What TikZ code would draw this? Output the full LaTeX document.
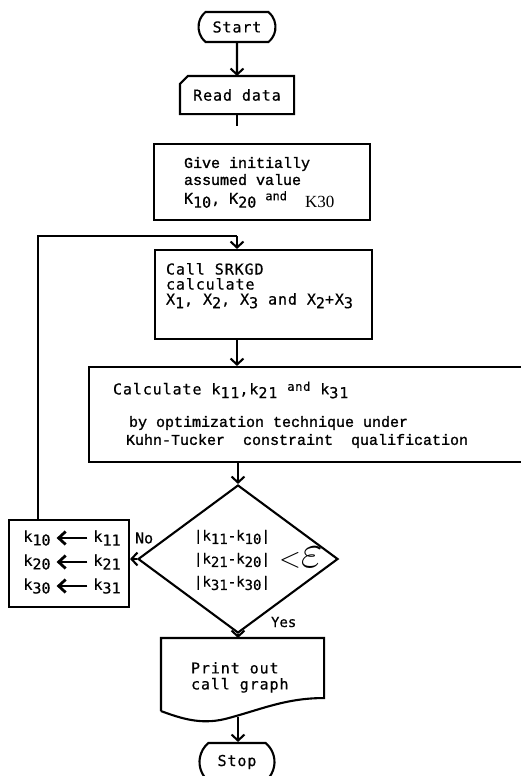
\documentclass[tikz,border=0pt]{standalone}
\usepackage{fontspec}
\setmainfont{Liberation Serif}
\newfontfamily\smono[FakeBold=0.5]{DejaVu Sans Mono}
\newfontfamily\smonowide[FakeBold=0.5,LetterSpace=6]{DejaVu Sans Mono}
\newfontfamily\cmono[FakeBold=1.2]{Liberation Mono}
\usetikzlibrary{arrows.meta,shapes.geometric,shapes.misc,calc}
\newcommand\lowr[1]{\raisebox{-0.45ex}{#1}}
\newcommand\upr[1]{\raisebox{0.45ex}{\fontsize{12}{12}\selectfont #1}}
\begin{document}
\begin{tikzpicture}[x=1pt,y=-1pt,
  line width=2.1pt,
  blk/.style={draw,rectangle,inner sep=0pt},
  term/.style={draw,rounded rectangle,rounded rectangle arc length=100,inner sep=0pt},
  arr/.style={-{Straight Barb[length=6pt,width=13pt]}},
  karr/.style={line width=2.8pt,-{Straight Barb[length=7pt,width=13pt]}},
  sansmono/.style={font=\smono\fontsize{15}{16}\selectfont,inner sep=0pt},
  sansmonok/.style={font=\smono\fontsize{14}{16}\selectfont,inner sep=0pt},
  sansmonow/.style={font=\smonowide\fontsize{15}{16}\selectfont,inner sep=0pt},
  courmono/.style={font=\cmono\fontsize{15}{16}\selectfont,inner sep=0pt},
]
\useasboundingbox (0,0) rectangle (521,776);

% Start
\node[term,minimum width=77pt,minimum height=30pt,sansmonow] (start) at (237,27) {Start};

% Read data (card)
\node[minimum width=112pt,minimum height=36pt,inner sep=0pt,sansmonow] (read) at (237,95) {Read data};
\draw (read.south west) -- ([yshift=-8pt]read.north west) -- ([xshift=8pt]read.north west)
      -- (read.north east) -- (read.south east) -- cycle;
\draw[arr] (start) -- (read);
\coordinate (readstub) at ($(read.south)+(0,12)$);
\draw (read.south) -- (readstub);

% Give initially
\node[blk,minimum width=216pt,minimum height=76pt] (give) at (262,182) {};
\node[courmono,anchor=north west,align=left] (givetxt) at (183,156)
  {Give initially\\[1pt] assumed value\\[3pt]
   {\smono K\lowr{10}, K\lowr{20} \upr{and}}~~\lowr{\rmfamily\fontsize{17}{17}\selectfont K30}};

% Call SRKGD
\node[blk,minimum width=217pt,minimum height=89pt] (call) at (263.5,294.5) {};
\node[sansmonow,anchor=north west,align=left] (calltxt) at (165,262)
  {Call SRKGD\\[-1pt] calculate\\[-1pt]
   X\lowr{1}, X\lowr{2}, X\lowr{3} and X\lowr{2}+X\lowr{3}};

% loop join
\coordinate (join) at (237,236);
\draw[arr] (join) -- (call.north -| join);

% Calculate box
\node[blk,minimum width=441pt,minimum height=95pt] (calc) at (309.5,414.5) {};
\node[sansmonow,anchor=west] (calctxt1) at (112,390)
  {Calculate k\lowr{11},k\lowr{21} \upr{and} k\lowr{31}};
\node[courmono,anchor=west] (calctxt2) at (128,423) {by optimization technique under};
\node[courmono,anchor=west] (calctxt3) at (125,441) {Kuhn-Tucker~ constraint~ qualification};
\draw[arr] (call.south -| join) -- (calc.north -| join);

% Decision
\node[draw,diamond,minimum width=200pt,minimum height=148pt,inner sep=0pt] (dec) at (238,559) {};
\node[sansmonok,anchor=west,align=left] (dectxt) at (193,560)
  {|k\lowr{11}-k\lowr{10}|\\[7pt] |k\lowr{21}-k\lowr{20}|\\[7pt] |k\lowr{31}-k\lowr{30}|};
\node[anchor=west,inner sep=0pt] (eps) at (278,558)
  {\scalebox{1.15}{\fontsize{24}{24}\selectfont$<$}\scalebox{1.9}{\fontsize{24}{24}\selectfont$\varepsilon$}};
\draw[arr] (calc.south -| dec.north) -- (dec.north);

% K box
\node[blk,minimum width=120pt,minimum height=87pt] (kbox) at (69,563.5) {};
\node[sansmono] (k10) at (37,538) {k\lowr{10}};
\node[sansmono] (k11) at (107,538) {k\lowr{11}};
\node[sansmono] (k20) at (37,562) {k\lowr{20}};
\node[sansmono] (k21) at (107,562) {k\lowr{21}};
\node[sansmono] (k30) at (37,586) {k\lowr{30}};
\node[sansmono] (k31) at (107,586) {k\lowr{31}};
\draw[karr] ([xshift=-5pt]k11.west) -- ([xshift=5pt]k10.east |- k11.west);
\draw[karr] ([xshift=-5pt]k21.west) -- ([xshift=5pt]k20.east |- k21.west);
\draw[karr] ([xshift=-5pt]k31.west) -- ([xshift=5pt]k30.east |- k31.west);
\draw[arr] (dec.west) -- (kbox.east |- dec.west);
\node[sansmono,anchor=west] (no) at (134,538) {No};

% loop back
\coordinate (loopstart) at ([xshift=30pt]kbox.north west);
\draw (loopstart) |- (join);

% Print
\node[minimum width=161pt,minimum height=71pt,inner sep=0pt] (print) at (242.5,674.5) {};
\draw (print.south west) -- (print.north west) -- (print.north east) -- ([yshift=13pt]print.south east)
  .. controls (285,698) and (260,710) .. (225,719)
  .. controls (200,725) and (180,718) .. (print.south west);
\node[sansmonow,anchor=north west,align=left] (printtxt) at (190,661) {Print out\\ call graph};
\draw[arr] (dec.south) -- (print.north -| dec.south);
\node[sansmonok,anchor=west] (yes) at (270,622) {Yes};

% Stop
\node[term,minimum width=75pt,minimum height=38pt,sansmonow] (stop) at (237,762) {Stop};
\coordinate (pbot) at (238,717);
\draw[arr] (pbot) -- (stop.north -| pbot);
\end{tikzpicture}
\end{document}
